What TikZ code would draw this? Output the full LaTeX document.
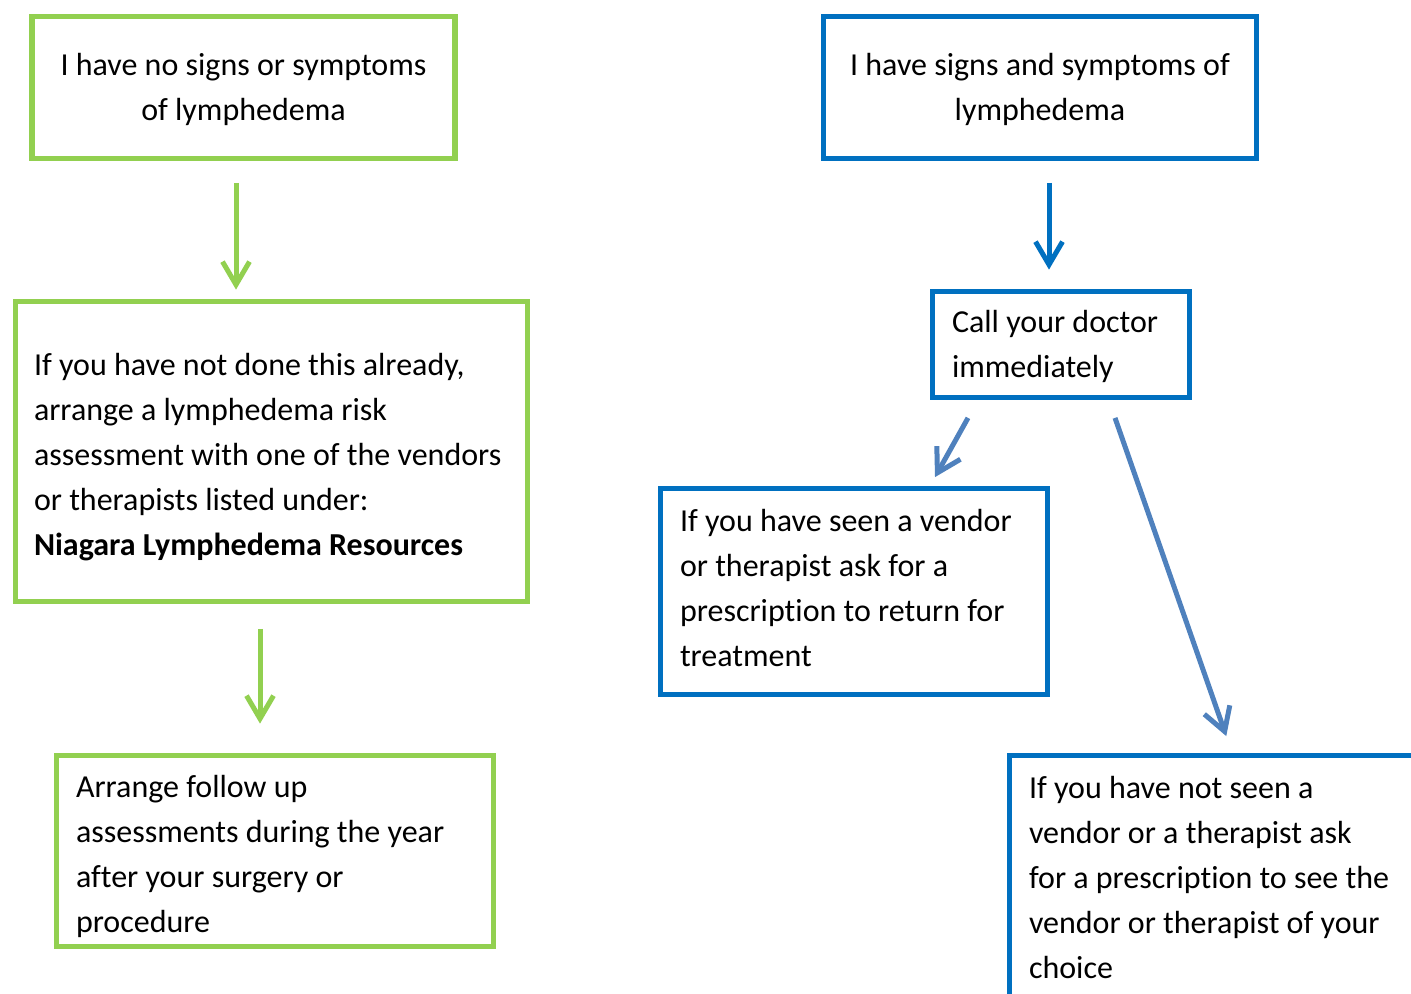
\documentclass[tikz,border=0pt]{standalone}
\usepackage{fontspec}
\setmainfont[Ligatures={NoCommon}]{Carlito}
\usetikzlibrary{arrows.meta}
\definecolor{lgreen}{HTML}{92D050}
\definecolor{dblue}{HTML}{0070C0}
\definecolor{mblue}{HTML}{4F81BD}
\begin{document}
\begin{tikzpicture}[x=0.5pt,y=-0.5pt,
  box/.style={draw, line width=2.9pt, inner sep=0pt, rectangle, fill=white},
  txt/.style={inner sep=0pt, font=\fontsize{16pt}{22.5pt}\selectfont},
  tipa/.style={-{Straight Barb[length=11.5pt,width=13.5pt]}},
  garrow/.style={draw=lgreen, line width=2.5pt, tipa},
  barrow/.style={draw=dblue, line width=2.5pt, tipa},
  marrow/.style={draw=mblue, line width=2.5pt, tipa}]
\clip (0,0) rectangle (1411,994);
\fill[white] (0,0) rectangle (1411,994);
% boxes
\node[box, draw=lgreen, minimum width=211.5pt, minimum height=71pt] (b1) at (243.5,87.5) {};
\node[box, draw=lgreen, minimum width=256pt, minimum height=150pt] (b2) at (271.5,451.5) {};
\node[box, draw=lgreen, minimum width=218.5pt, minimum height=95.5pt] (b3) at (275,851) {};
\node[box, draw=dblue, minimum width=216.5pt, minimum height=71pt] (b4) at (1040,87.5) {};
\node[box, draw=dblue, minimum width=128.5pt, minimum height=53pt] (b5) at (1061,344.5) {};
\node[box, draw=dblue, minimum width=193.5pt, minimum height=103pt] (b6) at (854,591.5) {};
\node[box, draw=dblue, minimum width=225.25pt, minimum height=122pt] (b7) at (1234.75,877.5) {};
% texts
\node[txt, align=center] (t1) at ([yshift=-1pt]b1.center) {I have no signs or symptoms\\of lymphedema};
\node[txt, align=center] (t4) at ([yshift=-1pt]b4.center) {I have signs and symptoms of\\lymphedema};
\node[txt, align=left, anchor=west] (t2) at ([xshift=10.5pt,yshift=-2.75pt]b2.west)
  {If you have not done this already,\\arrange a lymphedema risk\\assessment with one of the vendors\\or therapists listed under:\\\textbf{Niagara Lymphedema Resources}};
\node[txt, align=left, anchor=west] (t3) at ([xshift=11pt,yshift=-2.5pt]b3.west)
  {Arrange follow up\\assessments during the year\\after your surgery or\\procedure};
\node[txt, align=left, anchor=west] (t5) at ([xshift=11pt,yshift=-1pt]b5.west)
  {Call your doctor\\immediately};
\node[txt, align=left, anchor=west] (t6) at ([xshift=11pt,yshift=1.5pt]b6.west)
  {If you have seen a vendor\\or therapist ask for a\\prescription to return for\\treatment};
\node[txt, align=left, anchor=west] (t7) at ([xshift=11pt,yshift=0pt]b7.west)
  {If you have not seen a\\vendor or a therapist ask\\for a prescription to see the\\vendor or therapist of your\\choice};
% arrows
\draw[garrow] ([xshift=-3.75pt,yshift=-10.75pt]b1.south) -- ([xshift=-17.75pt,yshift=4.5pt]b2.north);
\draw[garrow] ([xshift=-5.75pt,yshift=-12.25pt]b2.south) -- ([xshift=-7.5pt,yshift=14.5pt]b3.north);
\draw[barrow] ([xshift=4.5pt,yshift=-10.75pt]b4.south) -- ([xshift=-6pt,yshift=9.5pt]b5.north);
\draw[marrow] ([xshift=-46.5pt,yshift=-8.75pt]b5.south) -- ([xshift=40.5pt,yshift=4.25pt]b6.north);
\draw[marrow] ([xshift=27pt,yshift=-8.75pt]b5.south) -- ([xshift=-4.25pt,yshift=8.25pt]b7.north);
\end{tikzpicture}
\end{document}
